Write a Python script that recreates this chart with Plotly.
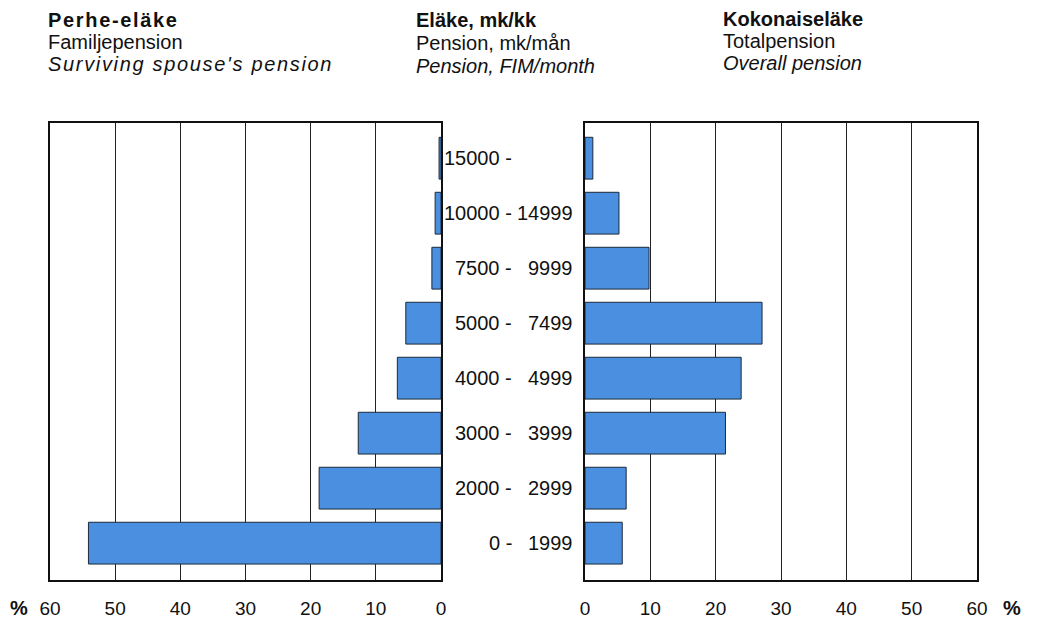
import plotly.graph_objects as go

categories = ["0 - 1999", "2000 - 2999", "3000 - 3999", "4000 - 4999",
              "5000 - 7499", "7500 - 9999", "10000 - 14999", "15000 -"]
label_low = ["0 -", "2000 -", "3000 -", "4000 -", "5000 -", "7500 -", "10000 -", "15000 -"]
label_high = ["1999", "2999", "3999", "4999", "7499", "9999", "14999", ""]
surviving_spouse = [54.1, 18.7, 12.7, 6.7, 5.4, 1.4, 0.9, 0.3]
overall = [5.7, 6.3, 21.5, 23.9, 27.1, 9.8, 5.2, 1.2]
tick_vals = [0, 10, 20, 30, 40, 50, 60]

FONT = "Liberation Sans, Arial, sans-serif"
BAR = "#4a8fe0"
EDGE = "#1c2a3a"
W, H = 1037, 619
OFF = 8  # page body margin


def px(x):
    return (x - OFF) / W


def py(y):
    return 1 - (y - OFF) / H


ypos = list(range(len(categories)))

fig = go.Figure()
fig.add_trace(go.Bar(x=surviving_spouse, y=ypos, orientation="h", xaxis="x", yaxis="y",
                     marker=dict(color=BAR, line=dict(color=EDGE, width=1)),
                     width=0.76, showlegend=False, hoverinfo="x"))
fig.add_trace(go.Bar(x=overall, y=ypos, orientation="h", xaxis="x2", yaxis="y2",
                     marker=dict(color=BAR, line=dict(color=EDGE, width=1)),
                     width=0.76, showlegend=False, hoverinfo="x"))

xcommon = dict(showgrid=True, tickvals=tick_vals, gridcolor="#222222", gridwidth=1,
               showline=True, linecolor="#111111", linewidth=2, mirror=True, zeroline=False,
               ticks="", ticklabelstandoff=10, automargin=False,
               tickfont=dict(family=FONT, size=19, color="#111111"), fixedrange=True)
ycommon = dict(range=[-0.67, 7.64], showgrid=False, showticklabels=False, showline=True,
               linecolor="#111111", linewidth=2, mirror=True, zeroline=False, ticks="",
               automargin=False, fixedrange=True)

fig.update_layout(
    template="none",
    width=W, height=H,
    margin=dict(l=0, r=0, t=0, b=0, pad=0, autoexpand=False),
    paper_bgcolor="white", plot_bgcolor="white",
    showlegend=False,
    xaxis=dict(domain=[px(50), px(441)], range=[60, 0], **xcommon),
    yaxis=dict(domain=[py(580), py(123)], anchor="x", **ycommon),
    xaxis2=dict(domain=[px(585), px(977)], range=[0, 60], anchor="y2", **xcommon),
    yaxis2=dict(domain=[py(580), py(123)], anchor="x2", **ycommon),
)

ann = []
for i in range(len(categories)):
    ann.append(dict(x=px(514), y=ypos[i], xref="paper", yref="y", text=label_low[i],
                    xanchor="right", yanchor="middle", showarrow=False,
                    font=dict(family=FONT, size=20, color="#111111")))
    if label_high[i]:
        ann.append(dict(x=px(575), y=ypos[i], xref="paper", yref="y", text=label_high[i],
                        xanchor="right", yanchor="middle", showarrow=False,
                        font=dict(family=FONT, size=20, color="#111111")))


def hdr(x, y, text, bold=False, italic=False, size=20):
    t = text
    if bold:
        t = "<b>" + t + "</b>"
    if italic:
        t = "<i>" + t + "</i>"
    return dict(x=px(x), y=py(y), xref="paper", yref="paper", text=t, xanchor="left",
                yanchor="middle", showarrow=False,
                font=dict(family=FONT, size=size, color="#111111"))


HS = "\u200a"
ann += [
    hdr(46, 20, HS.join("Perhe-eläke"), bold=True),
    hdr(46, 42, "Familjepension"),
    hdr(46, 64, HS.join("Surviving spouse's pension"), italic=True),
    hdr(414, 20, "Eläke, mk/kk", bold=True),
    hdr(414, 43, "Pension, mk/mån"),
    hdr(414, 66, "Pension, FIM/month", italic=True),
    hdr(721, 19, "Kokonaiseläke", bold=True),
    hdr(721, 41, "Totalpension"),
    hdr(721, 63, "Overall pension", italic=True),
    hdr(8, 608, "%", bold=True),
    hdr(1001, 608, "%", bold=True),
]
fig.update_layout(annotations=ann)

fig.write_html("out.html")
